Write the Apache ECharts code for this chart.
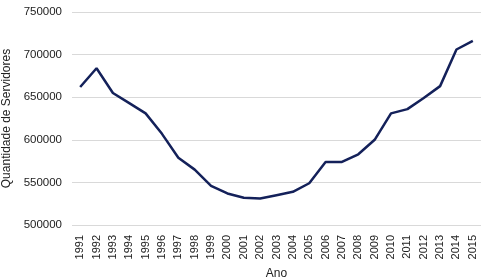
<!DOCTYPE html>
<html><head><meta charset="utf-8">
<script src="https://cdn.jsdelivr.net/npm/echarts@6/dist/echarts.min.js"></script>
<style>html,body{margin:0;padding:0;background:#fff}#c{width:486px;height:279px}</style>
</head><body><div id="c"></div>
<script>
const years = ['1991','1992','1993','1994','1995','1996','1997','1998','1999','2000','2001','2002','2003','2004','2005','2006','2007','2008','2009','2010','2011','2012','2013','2014','2015'];
const servidores = [662000,684000,655000,643000,631000,607000,579000,565000,546000,537000,532000,531000,535000,539000,549000,574000,574000,583000,600000,631000,636000,649000,663000,706000,716000];
const yMin = 500000, yMax = 750000, yStep = 50000;
const font = '"Liberation Sans Narrow","Arial Narrow","Liberation Sans",sans-serif';
const chart = echarts.init(document.getElementById('c'), null, {renderer:'canvas'});
chart.setOption({
  animation:false,
  grid:{left:72,right:5,top:12,bottom:54,containLabel:false,outerBoundsMode:'none'},
  xAxis:{type:'category',data:years,boundaryGap:true,
    name:'Ano',nameLocation:'middle',nameGap:41,
    nameTextStyle:{fontFamily:font,fontSize:12,color:'#222'},
    axisLine:{show:false},axisTick:{show:false},
    axisLabel:{rotate:90,fontFamily:font,fontSize:11,color:'#222',margin:10,interval:0}},
  yAxis:{type:'value',min:yMin,max:yMax,interval:yStep,
    name:'Quantidade de Servidores',nameLocation:'middle',nameGap:55,
    nameTextStyle:{fontFamily:font,fontSize:12,color:'#222'},
    axisLine:{show:false},axisTick:{show:false},
    axisLabel:{fontFamily:font,fontSize:11.5,color:'#222',margin:10,formatter:v=>String(v)},
    splitLine:{lineStyle:{color:'#d9d9d9',width:1}}},
  series:[{type:'line',data:servidores,symbol:'none',
    lineStyle:{color:'#14215a',width:2.5}}]
});
</script></body></html>
